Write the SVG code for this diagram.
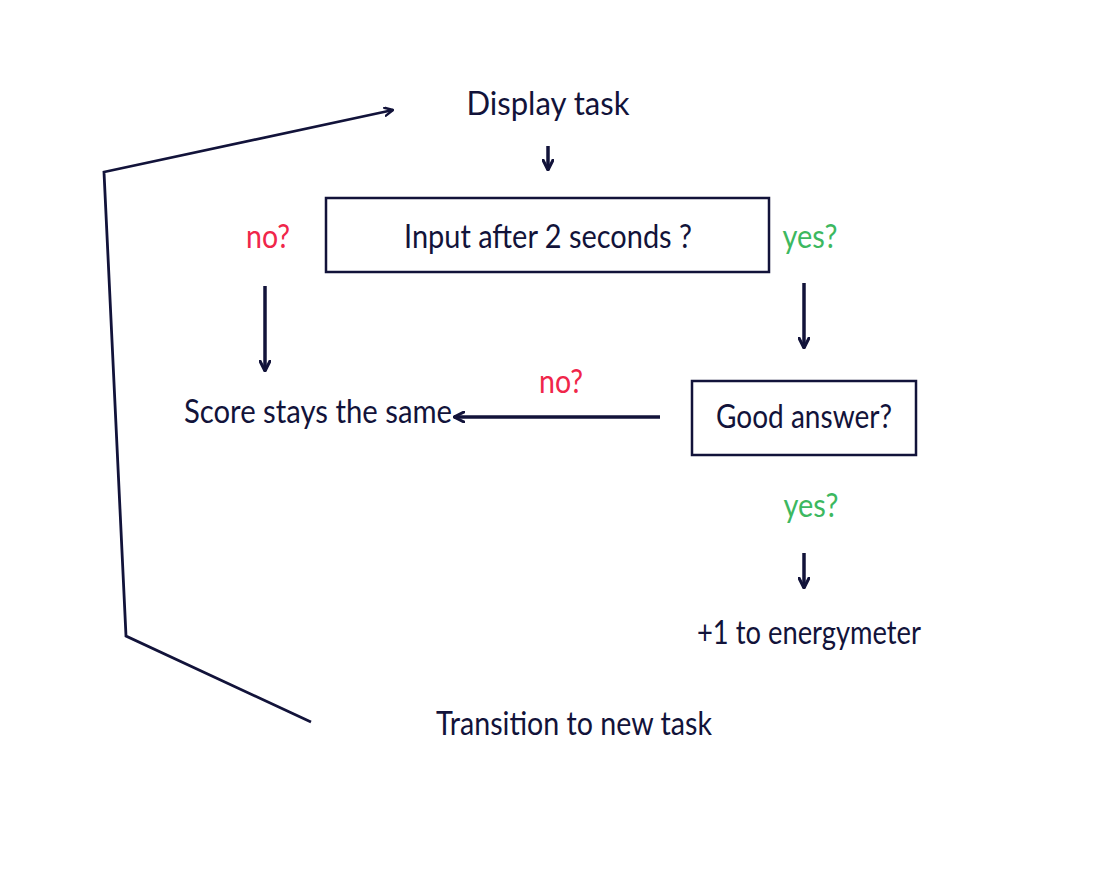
<svg xmlns="http://www.w3.org/2000/svg" width="1096" height="881" viewBox="0 0 1096 881">
<style>
.t{font-family:Lato,"Open Sans","DejaVu Sans",sans-serif;font-size:32px;fill:#12133a;text-anchor:middle}
.r{fill:#f0264a}
.g{fill:#3cb860}
.box{fill:#fff;stroke:#12133a;stroke-width:2.5}
.c{fill:none;stroke:#12133a;stroke-width:3.5;marker-end:url(#ah)}
</style>
<defs>
<marker id="ah" viewBox="0 0 10 10" refX="9" refY="5" markerWidth="3.6" markerHeight="3.6" orient="auto" markerUnits="strokeWidth">
<polyline points="1,1 9,5 1,9" fill="none" stroke="#12133a" stroke-width="2.4" stroke-linecap="round" stroke-linejoin="round"/>
</marker>
</defs>
<rect width="1096" height="881" fill="#fff"/>
<g id="connectors">
<line class="c" x1="548" y1="146" x2="548" y2="170"/>
<line class="c" x1="265" y1="286" x2="265" y2="371"/>
<line class="c" x1="804" y1="283" x2="804" y2="348"/>
<line class="c" x1="660" y1="417" x2="454" y2="417"/>
<line class="c" x1="804" y1="553" x2="804" y2="588"/>
<polyline class="c" style="stroke-width:2.8" points="311,722 126,636 104,172 393,110"/>
</g>
<g id="display-task"><text class="t" x="548" y="115" textLength="163" lengthAdjust="spacingAndGlyphs">Display task</text></g>
<g id="input-check">
<rect class="box" x="326" y="198" width="443" height="74"/>
<text class="t" x="548" y="248" textLength="288" lengthAdjust="spacingAndGlyphs">Input after 2 seconds ?</text>
</g>
<g id="label-no-1"><text class="t r" x="268" y="248" textLength="44" lengthAdjust="spacingAndGlyphs">no?</text></g>
<g id="label-yes-1"><text class="t g" x="810" y="248" textLength="55" lengthAdjust="spacingAndGlyphs">yes?</text></g>
<g id="score-same"><text class="t" x="318" y="423" textLength="268" lengthAdjust="spacingAndGlyphs">Score stays the same</text></g>
<g id="label-no-2"><text class="t r" x="561" y="393" textLength="44" lengthAdjust="spacingAndGlyphs">no?</text></g>
<g id="good-answer">
<rect class="box" x="692" y="381" width="224" height="74"/>
<text class="t" x="804" y="428" textLength="176" lengthAdjust="spacingAndGlyphs">Good answer?</text>
</g>
<g id="label-yes-2"><text class="t g" x="811" y="517" textLength="55" lengthAdjust="spacingAndGlyphs">yes?</text></g>
<g id="energymeter"><text class="t" x="809" y="644" textLength="224" lengthAdjust="spacingAndGlyphs">+1 to energymeter</text></g>
<g id="transition"><text class="t" x="574" y="735" textLength="276" lengthAdjust="spacingAndGlyphs">Transition to new task</text></g>
</svg>
